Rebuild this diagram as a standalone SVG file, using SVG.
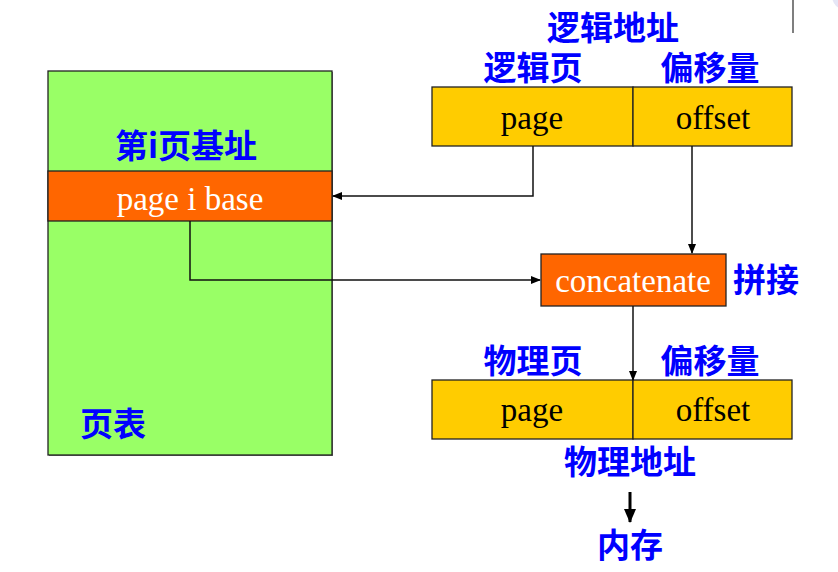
<svg xmlns="http://www.w3.org/2000/svg" width="838" height="572" viewBox="0 0 838 572">
<style>
.cn{font-family:"Noto Sans CJK SC","Noto Sans",sans-serif;font-weight:bold;font-size:33px;fill:#0000ff;text-anchor:middle}
.ser{font-family:"Liberation Serif","Times New Roman",serif;font-size:33px;text-anchor:middle}
.box{stroke:#222;stroke-width:1.3}
.ln{fill:none;stroke:#111;stroke-width:1.5}
</style>
<defs>
<marker id="ah" markerWidth="10" markerHeight="8" refX="9" refY="4" orient="auto" markerUnits="userSpaceOnUse">
<path d="M0,0 L10,4 L0,8 Z" fill="#000"/>
</marker>
<marker id="ahb" markerWidth="14" markerHeight="12" refX="13" refY="6" orient="auto" markerUnits="userSpaceOnUse">
<path d="M0,0 L14,6 L0,12 Z" fill="#000"/>
</marker>
</defs>
<rect width="838" height="572" fill="#fff"/>
<line x1="793" y1="0" x2="793" y2="33" stroke="#555" stroke-width="1.5"/>
<circle cx="846" cy="-4" r="14" fill="#e6e6f6"/>

<g id="page-table">
<rect x="49" y="72" width="284" height="384" fill="#777"/>
<rect x="48" y="71" width="284" height="384" fill="#99ff66" class="box"/>
<text x="186" y="158" class="cn">第i页基址</text>
<text x="113" y="436" class="cn">页表</text>
</g>
<g id="page-i-base">
<rect x="48" y="171" width="284" height="50" fill="#ff6600" class="box"/>
<text x="190" y="210" class="ser" fill="#fff">page i base</text>
</g>

<g id="logical-address">
<text x="613" y="40" class="cn">逻辑地址</text>
<text x="533" y="80" class="cn">逻辑页</text>
<text x="710" y="80" class="cn">偏移量</text>
<rect x="432" y="87" width="201" height="59" fill="#ffcc00" class="box"/>
<rect x="633" y="87" width="159" height="59" fill="#ffcc00" class="box"/>
<text x="532" y="129" class="ser" fill="#000">page</text>
<text x="713" y="129" class="ser" fill="#000">offset</text>
</g>

<g id="concatenate">
<rect x="541" y="254" width="185" height="52" fill="#ff6600" class="box"/>
<text x="633" y="292" class="ser" fill="#fff">concatenate</text>
<text x="766" y="292" class="cn">拼接</text>
</g>

<g id="physical-address">
<text x="533" y="373" class="cn">物理页</text>
<text x="710" y="373" class="cn">偏移量</text>
<rect x="432" y="380" width="201" height="59" fill="#ffcc00" class="box"/>
<rect x="633" y="380" width="159" height="59" fill="#ffcc00" class="box"/>
<text x="532" y="421" class="ser" fill="#000">page</text>
<text x="713" y="421" class="ser" fill="#000">offset</text>
<text x="630" y="474" class="cn">物理地址</text>
</g>

<g id="memory">
<text x="630" y="557" class="cn">内存</text>
</g>

<g id="connectors">
<path d="M533,146 V196 H333" class="ln" marker-end="url(#ah)"/>
<path d="M692,146 V253" class="ln" marker-end="url(#ah)"/>
<path d="M190,221 V280 H540" class="ln" marker-end="url(#ah)"/>
<path d="M633,306 V380" class="ln" marker-end="url(#ah)"/>
<path d="M630,492 V522" fill="none" stroke="#000" stroke-width="3" marker-end="url(#ahb)"/>
</g>
</svg>
